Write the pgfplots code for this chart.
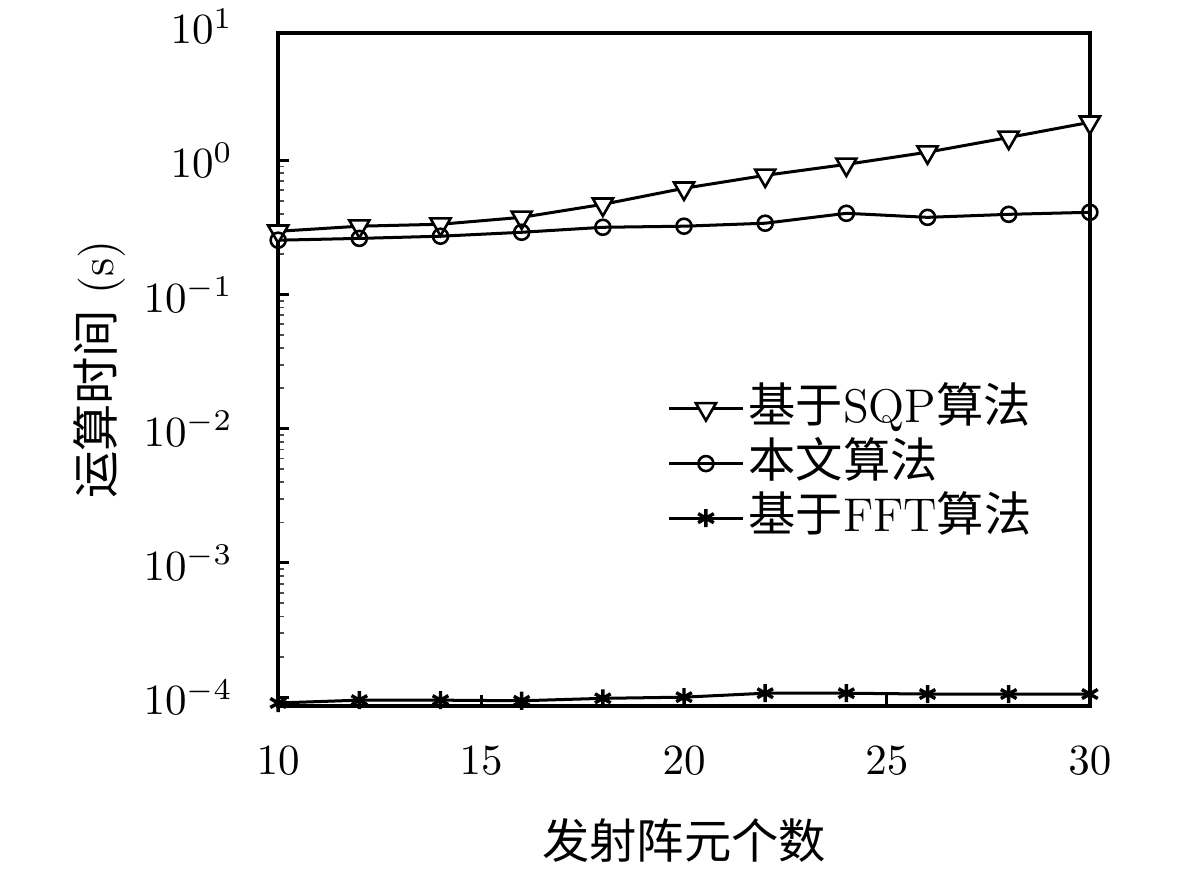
\documentclass[border=0pt]{standalone}
\usepackage{fontspec}
\usepackage{pgfplots}
\pgfplotsset{compat=1.18}
\newfontfamily\cjk{Noto Sans CJK SC}
\begin{document}
\begin{tikzpicture}
\begin{semilogyaxis}[
  scale only axis, width=188.8pt, height=156.5pt,
  xmin=10, xmax=30, ymin=8.6e-5, ymax=8.87,
  xtick={10,15,20,25,30},
  ytick={1e-4,1e-3,1e-2,1e-1,1},
  tick pos=left, tick align=inside,
  major tick length=2.6pt, minor tick length=1.4pt,
  axis line style={line width=0.8pt},
  every major tick/.style={line width=0.7pt, black},
  every minor tick/.style={line width=0.4pt, black!70},
  font=\fontsize{11}{13}\selectfont,
  tick label style={font=\fontsize{10}{12}\selectfont},
  xticklabel style={yshift=-6pt},
  yticklabel style={xshift=-7pt},
  xlabel={\cjk 发射阵元个数},
  ylabel={{\cjk 运算时间} (s)},
  xlabel style={at={(axis description cs:0.5,-0.2)}, anchor=center},
  ylabel style={at={(axis description cs:-0.22,0.5)}, anchor=center},
  clip=false,
  legend cell align=left,
  legend style={draw=none, fill=none, at={(0.463,0.496)}, anchor=north west,
    row sep=0pt, nodes={inner sep=1pt, text height=8.5pt, text depth=2.2pt},
    font=\fontsize{11}{13}\selectfont},
]
\addplot[black, line width=0.7pt, mark=triangle*, mark size=2.7pt,
  mark options={solid, fill=white, rotate=180, line width=0.6pt}] coordinates {
  (10,0.296) (12,0.323) (14,0.334) (16,0.376) (18,0.47) (20,0.619)
  (22,0.773) (24,0.933) (26,1.15) (28,1.48) (30,1.92)};
\addlegendentry{{\cjk 基于}SQP{\cjk 算法}}
\addplot[black, line width=0.7pt, mark=o, mark size=1.75pt,
  mark options={solid, line width=0.6pt}] coordinates {
  (10,0.254) (12,0.262) (14,0.272) (16,0.291) (18,0.317) (20,0.323)
  (22,0.340) (24,0.403) (26,0.376) (28,0.396) (30,0.410)};
\addlegendentry{{\cjk 本文算法}}
\addplot[black, line width=0.7pt, mark=asterisk, mark size=2.1pt,
  mark options={solid, line width=0.8pt}] coordinates {
  (10,9.05e-5) (12,9.5e-5) (14,9.5e-5) (16,9.4e-5) (18,9.8e-5) (20,1.0e-4)
  (22,1.07e-4) (24,1.07e-4) (26,1.055e-4) (28,1.055e-4) (30,1.055e-4)};
\addlegendentry{{\cjk 基于}FFT{\cjk 算法}}
\node[anchor=east, inner sep=0pt, xshift=-10.3pt, font=\fontsize{10}{12}\selectfont] at (axis cs:10,10) {$10^{1}$};
\end{semilogyaxis}
\path ([shift={(-64.7pt,-39.1pt)}]current axis.south west) rectangle ([shift={(21.2pt,7.7pt)}]current axis.north east);
\end{tikzpicture}
\end{document}
